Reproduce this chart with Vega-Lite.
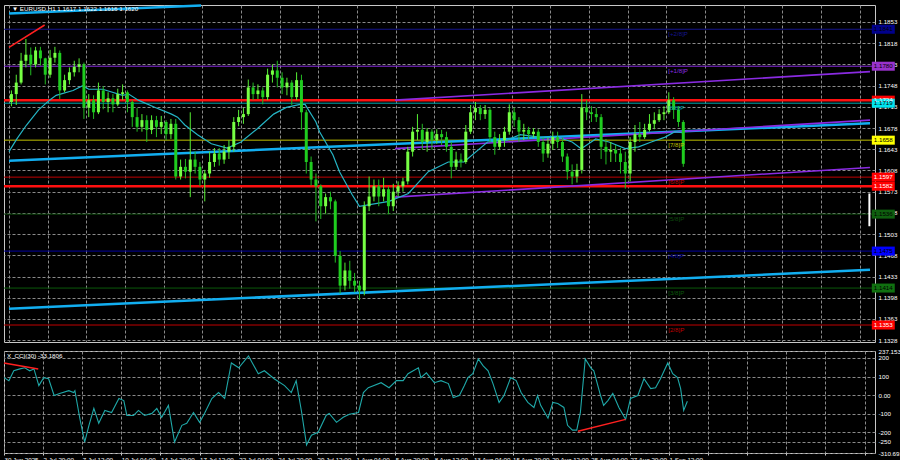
{
"$schema": "https://vega.github.io/schema/vega-lite/v6.json",
"background": "#000000",
"padding": 0,
"config": {
 "view": {"stroke": "#c8c8c8", "strokeWidth": 1},
 "concat": {"spacing": 3},
 "axis": {"labelFont": "Liberation Sans", "labelFontSize": 6.2, "labelColor": "#ffffff", "gridColor": "#8a8a8a", "gridDash": [3, 2], "gridWidth": 1, "domain": false, "ticks": false, "title": null, "labelOverlap": false, "labelFlush": false},
 "text": {"font": "Liberation Sans"}
},
"datasets": {
 "candles": [
{"t":4,"o":1.1721,"h":1.1740,"l":1.1714,"c":1.1734},{"t":12,"o":1.1734,"h":1.1766,"l":1.1716,"c":1.1753},{"t":20,"o":1.1753,"h":1.1802,"l":1.1750,"c":1.1789},{"t":28,"o":1.1789,"h":1.1825,"l":1.1778,"c":1.1799},{"t":36,"o":1.1799,"h":1.1811,"l":1.1765,"c":1.1783},{"t":44,"o":1.1783,"h":1.1812,"l":1.1778,"c":1.1806},{"t":52,"o":1.1806,"h":1.1812,"l":1.1781,"c":1.1793},{"t":60,"o":1.1793,"h":1.1794,"l":1.1750,"c":1.1766},{"t":68,"o":1.1766,"h":1.1807,"l":1.1761,"c":1.1794},{"t":76,"o":1.1794,"h":1.1812,"l":1.1786,"c":1.1802},
{"t":84,"o":1.1802,"h":1.1806,"l":1.1726,"c":1.1740},{"t":92,"o":1.1740,"h":1.1766,"l":1.1737,"c":1.1757},{"t":100,"o":1.1757,"h":1.1778,"l":1.1750,"c":1.1770},{"t":108,"o":1.1770,"h":1.1789,"l":1.1763,"c":1.1779},{"t":116,"o":1.1779,"h":1.1793,"l":1.1770,"c":1.1783},{"t":124,"o":1.1783,"h":1.1786,"l":1.1693,"c":1.1712},{"t":132,"o":1.1712,"h":1.1734,"l":1.1696,"c":1.1724},{"t":140,"o":1.1724,"h":1.1732,"l":1.1693,"c":1.1704},{"t":148,"o":1.1704,"h":1.1753,"l":1.1701,"c":1.1740},{"t":156,"o":1.1740,"h":1.1747,"l":1.1709,"c":1.1721},
{"t":164,"o":1.1721,"h":1.1737,"l":1.1704,"c":1.1727},{"t":172,"o":1.1727,"h":1.1734,"l":1.1704,"c":1.1717},{"t":180,"o":1.1717,"h":1.1743,"l":1.1714,"c":1.1734},{"t":188,"o":1.1734,"h":1.1750,"l":1.1724,"c":1.1737},{"t":196,"o":1.1737,"h":1.1740,"l":1.1704,"c":1.1721},{"t":204,"o":1.1721,"h":1.1724,"l":1.1680,"c":1.1696},{"t":212,"o":1.1696,"h":1.1711,"l":1.1672,"c":1.1680},{"t":220,"o":1.1680,"h":1.1701,"l":1.1672,"c":1.1691},{"t":228,"o":1.1691,"h":1.1699,"l":1.1655,"c":1.1675},{"t":236,"o":1.1675,"h":1.1699,"l":1.1668,"c":1.1691},
{"t":244,"o":1.1691,"h":1.1698,"l":1.1663,"c":1.1680},{"t":252,"o":1.1680,"h":1.1698,"l":1.1668,"c":1.1688},{"t":260,"o":1.1688,"h":1.1691,"l":1.1658,"c":1.1668},{"t":268,"o":1.1668,"h":1.1693,"l":1.1660,"c":1.1685},{"t":276,"o":1.1685,"h":1.1693,"l":1.1593,"c":1.1598},{"t":284,"o":1.1598,"h":1.1626,"l":1.1593,"c":1.1614},{"t":292,"o":1.1614,"h":1.1627,"l":1.1595,"c":1.1606},{"t":300,"o":1.1606,"h":1.1704,"l":1.1564,"c":1.1626},{"t":308,"o":1.1626,"h":1.1639,"l":1.1603,"c":1.1614},{"t":316,"o":1.1614,"h":1.1622,"l":1.1582,"c":1.1593},
{"t":324,"o":1.1593,"h":1.1609,"l":1.1557,"c":1.1603},{"t":332,"o":1.1603,"h":1.1639,"l":1.1596,"c":1.1622},{"t":340,"o":1.1622,"h":1.1645,"l":1.1614,"c":1.1636},{"t":348,"o":1.1636,"h":1.1645,"l":1.1616,"c":1.1626},{"t":356,"o":1.1626,"h":1.1650,"l":1.1619,"c":1.1639},{"t":364,"o":1.1639,"h":1.1658,"l":1.1627,"c":1.1647},{"t":372,"o":1.1647,"h":1.1696,"l":1.1639,"c":1.1688},{"t":380,"o":1.1688,"h":1.1708,"l":1.1681,"c":1.1696},{"t":388,"o":1.1696,"h":1.1711,"l":1.1685,"c":1.1701},{"t":396,"o":1.1701,"h":1.1758,"l":1.1698,"c":1.1745},
{"t":404,"o":1.1745,"h":1.1753,"l":1.1724,"c":1.1734},{"t":412,"o":1.1734,"h":1.1750,"l":1.1726,"c":1.1740},{"t":420,"o":1.1740,"h":1.1745,"l":1.1717,"c":1.1729},{"t":428,"o":1.1729,"h":1.1776,"l":1.1724,"c":1.1766},{"t":436,"o":1.1766,"h":1.1783,"l":1.1753,"c":1.1773},{"t":444,"o":1.1773,"h":1.1789,"l":1.1745,"c":1.1761},{"t":452,"o":1.1761,"h":1.1770,"l":1.1734,"c":1.1745},{"t":460,"o":1.1745,"h":1.1761,"l":1.1732,"c":1.1753},{"t":468,"o":1.1753,"h":1.1757,"l":1.1716,"c":1.1729},{"t":476,"o":1.1729,"h":1.1770,"l":1.1724,"c":1.1757},
{"t":484,"o":1.1757,"h":1.1766,"l":1.1675,"c":1.1704},{"t":492,"o":1.1704,"h":1.1708,"l":1.1603,"c":1.1622},{"t":500,"o":1.1622,"h":1.1631,"l":1.1583,"c":1.1593},{"t":508,"o":1.1593,"h":1.1603,"l":1.1524,"c":1.1582},{"t":516,"o":1.1582,"h":1.1585,"l":1.1528,"c":1.1549},{"t":524,"o":1.1549,"h":1.1570,"l":1.1537,"c":1.1564},{"t":532,"o":1.1564,"h":1.1573,"l":1.1544,"c":1.1557},{"t":540,"o":1.1557,"h":1.1560,"l":1.1456,"c":1.1467},{"t":548,"o":1.1467,"h":1.1475,"l":1.1405,"c":1.1418},{"t":556,"o":1.1418,"h":1.1456,"l":1.1410,"c":1.1443},
{"t":564,"o":1.1443,"h":1.1459,"l":1.1413,"c":1.1426},{"t":572,"o":1.1426,"h":1.1439,"l":1.1407,"c":1.1418},{"t":580,"o":1.1418,"h":1.1426,"l":1.1394,"c":1.1410},{"t":588,"o":1.1410,"h":1.1557,"l":1.1402,"c":1.1549},{"t":596,"o":1.1549,"h":1.1598,"l":1.1541,"c":1.1565},{"t":604,"o":1.1565,"h":1.1593,"l":1.1557,"c":1.1582},{"t":612,"o":1.1582,"h":1.1593,"l":1.1549,"c":1.1565},{"t":620,"o":1.1565,"h":1.1596,"l":1.1557,"c":1.1577},{"t":628,"o":1.1577,"h":1.1582,"l":1.1536,"c":1.1549},{"t":636,"o":1.1549,"h":1.1586,"l":1.1541,"c":1.1573},
{"t":644,"o":1.1573,"h":1.1590,"l":1.1565,"c":1.1582},{"t":652,"o":1.1582,"h":1.1596,"l":1.1573,"c":1.1590},{"t":660,"o":1.1590,"h":1.1647,"l":1.1585,"c":1.1639},{"t":668,"o":1.1639,"h":1.1680,"l":1.1631,"c":1.1672},{"t":676,"o":1.1672,"h":1.1701,"l":1.1658,"c":1.1675},{"t":684,"o":1.1675,"h":1.1685,"l":1.1642,"c":1.1655},{"t":692,"o":1.1655,"h":1.1678,"l":1.1639,"c":1.1672},{"t":700,"o":1.1672,"h":1.1676,"l":1.1642,"c":1.1658},{"t":708,"o":1.1658,"h":1.1676,"l":1.1652,"c":1.1668},{"t":716,"o":1.1668,"h":1.1675,"l":1.1650,"c":1.1663},
{"t":724,"o":1.1663,"h":1.1672,"l":1.1639,"c":1.1647},{"t":732,"o":1.1647,"h":1.1655,"l":1.1595,"c":1.1614},{"t":740,"o":1.1614,"h":1.1639,"l":1.1609,"c":1.1626},{"t":748,"o":1.1626,"h":1.1636,"l":1.1613,"c":1.1622},{"t":756,"o":1.1622,"h":1.1683,"l":1.1619,"c":1.1672},{"t":764,"o":1.1672,"h":1.1716,"l":1.1668,"c":1.1704},{"t":772,"o":1.1704,"h":1.1721,"l":1.1691,"c":1.1711},{"t":780,"o":1.1711,"h":1.1716,"l":1.1691,"c":1.1701},{"t":788,"o":1.1701,"h":1.1716,"l":1.1693,"c":1.1708},{"t":796,"o":1.1708,"h":1.1711,"l":1.1655,"c":1.1663},
{"t":804,"o":1.1663,"h":1.1672,"l":1.1634,"c":1.1647},{"t":812,"o":1.1647,"h":1.1668,"l":1.1642,"c":1.1658},{"t":820,"o":1.1658,"h":1.1680,"l":1.1647,"c":1.1672},{"t":828,"o":1.1672,"h":1.1717,"l":1.1667,"c":1.1704},{"t":836,"o":1.1704,"h":1.1712,"l":1.1680,"c":1.1691},{"t":844,"o":1.1691,"h":1.1696,"l":1.1655,"c":1.1672},{"t":852,"o":1.1672,"h":1.1685,"l":1.1658,"c":1.1675},{"t":860,"o":1.1675,"h":1.1680,"l":1.1660,"c":1.1668},{"t":868,"o":1.1668,"h":1.1678,"l":1.1662,"c":1.1672},{"t":876,"o":1.1672,"h":1.1676,"l":1.1647,"c":1.1655},
{"t":884,"o":1.1655,"h":1.1662,"l":1.1622,"c":1.1636},{"t":892,"o":1.1636,"h":1.1662,"l":1.1629,"c":1.1652},{"t":900,"o":1.1652,"h":1.1672,"l":1.1642,"c":1.1663},{"t":908,"o":1.1663,"h":1.1672,"l":1.1645,"c":1.1655},{"t":916,"o":1.1655,"h":1.1662,"l":1.1622,"c":1.1631},{"t":924,"o":1.1631,"h":1.1636,"l":1.1593,"c":1.1606},{"t":932,"o":1.1606,"h":1.1618,"l":1.1585,"c":1.1598},{"t":940,"o":1.1598,"h":1.1619,"l":1.1588,"c":1.1609},{"t":948,"o":1.1609,"h":1.1734,"l":1.1603,"c":1.1712},{"t":956,"o":1.1712,"h":1.1724,"l":1.1691,"c":1.1704},
{"t":964,"o":1.1704,"h":1.1714,"l":1.1688,"c":1.1701},{"t":972,"o":1.1701,"h":1.1711,"l":1.1688,"c":1.1696},{"t":980,"o":1.1696,"h":1.1701,"l":1.1627,"c":1.1647},{"t":988,"o":1.1647,"h":1.1660,"l":1.1618,"c":1.1639},{"t":996,"o":1.1639,"h":1.1655,"l":1.1622,"c":1.1642},{"t":1004,"o":1.1642,"h":1.1650,"l":1.1622,"c":1.1636},{"t":1012,"o":1.1636,"h":1.1645,"l":1.1603,"c":1.1622},{"t":1020,"o":1.1622,"h":1.1639,"l":1.1578,"c":1.1603},{"t":1028,"o":1.1603,"h":1.1663,"l":1.1590,"c":1.1655},{"t":1036,"o":1.1655,"h":1.1683,"l":1.1639,"c":1.1668},
{"t":1044,"o":1.1668,"h":1.1688,"l":1.1655,"c":1.1663},{"t":1052,"o":1.1663,"h":1.1685,"l":1.1660,"c":1.1675},{"t":1060,"o":1.1675,"h":1.1701,"l":1.1672,"c":1.1685},{"t":1068,"o":1.1685,"h":1.1704,"l":1.1676,"c":1.1691},{"t":1076,"o":1.1691,"h":1.1709,"l":1.1688,"c":1.1701},{"t":1084,"o":1.1701,"h":1.1714,"l":1.1691,"c":1.1704},{"t":1092,"o":1.1704,"h":1.1737,"l":1.1701,"c":1.1724},{"t":1100,"o":1.1724,"h":1.1729,"l":1.1693,"c":1.1708},{"t":1108,"o":1.1708,"h":1.1714,"l":1.1680,"c":1.1688},{"t":1116,"o":1.1688,"h":1.1691,"l":1.1614,"c":1.1619}
 ],
 "ma": [
{"t":0,"p":1.1639},{"t":13,"p":1.1660},{"t":29,"p":1.1683},{"t":49,"p":1.1708},{"t":67,"p":1.1724},{"t":78,"p":1.1732},{"t":106,"p":1.1740},{"t":122,"p":1.1748},{"t":132,"p":1.1742},{"t":155,"p":1.1742},{"t":188,"p":1.1732},{"t":198,"p":1.1734},{"t":214,"p":1.1724},{"t":242,"p":1.1712},{"t":269,"p":1.1701},{"t":279,"p":1.1696},{"t":291,"p":1.1683},{"t":312,"p":1.1667},{"t":335,"p":1.1652},{"t":361,"p":1.1645},{"t":384,"p":1.1655},{"t":410,"p":1.1676},{"t":438,"p":1.1701},{"t":459,"p":1.1712},{"t":482,"p":1.1717},{"t":490,"p":1.1717},{"t":508,"p":1.1688},{"t":514,"p":1.1672},{"t":536,"p":1.1634},{"t":547,"p":1.1606},{"t":568,"p":1.1568},{"t":580,"p":1.1549},{"t":629,"p":1.1557},{"t":661,"p":1.1570},{"t":694,"p":1.1606},{"t":727,"p":1.1622},{"t":753,"p":1.1622},{"t":792,"p":1.1655},{"t":824,"p":1.1658},{"t":846,"p":1.1667},{"t":878,"p":1.1663},{"t":911,"p":1.1662},{"t":932,"p":1.1655},{"t":947,"p":1.1644},{"t":971,"p":1.1660},{"t":993,"p":1.1655},{"t":1020,"p":1.1644},{"t":1042,"p":1.1647},{"t":1063,"p":1.1655},{"t":1086,"p":1.1663},{"t":1102,"p":1.1672},{"t":1117,"p":1.1670}
 ],
 "levels": [
{"p":1.1841,"line":"#14148e","box":"#00008b","txt":"#000000","name":"[+2/8]P","w":1},
{"p":1.1780,"line":"#8a2be2","box":"#9932cc","txt":"#000000","name":"[+1/8]P","w":1},
{"p":1.1724,"line":"#ff1010","box":"#ff0000","txt":"#ffffff","name":"","w":2.5},
{"p":1.1719,"line":"#00a8b0","box":"#00e5ee","txt":"#000000","name":"[8/8]P","w":1},
{"p":1.1658,"line":"#c0c000","box":"#ffff00","txt":"#000000","name":"[7/8]P","w":1},
{"p":1.1597,"line":"#c00000","box":"#ff0000","txt":"#ffffff","name":"[6/8]P","w":1},
{"p":1.1582,"line":"#ff1010","box":"#ff0000","txt":"#ffffff","name":"","w":2.5},
{"p":1.1536,"line":"#0d4a0d","box":"#0f5f0f","txt":"#000000","name":"[5/8]P","w":1},
{"p":1.1475,"line":"#0000a0","box":"#0000ff","txt":"#000000","name":"[4/8]P","w":1},
{"p":1.1414,"line":"#0b5a0b","box":"#107010","txt":"#000000","name":"[3/8]P","w":1},
{"p":1.1353,"line":"#c00000","box":"#ff0000","txt":"#ffffff","name":"[2/8]P","w":1}
 ],
 "trends": [
{"id":"a","t":0,"p":1.1867,"color":"#12aef0","w":2.5},{"id":"a","t":318,"p":1.1880,"color":"#12aef0","w":2.5},
{"id":"b","t":0,"p":1.1624,"color":"#12aef0","w":2.5},{"id":"b","t":1425,"p":1.1686,"color":"#12aef0","w":2.5},
{"id":"c","t":0,"p":1.1380,"color":"#12aef0","w":2.5},{"id":"c","t":1425,"p":1.1444,"color":"#12aef0","w":2.5},
{"id":"d","t":639,"p":1.1724,"color":"#8a2be2","w":1.6},{"id":"d","t":1425,"p":1.1771,"color":"#8a2be2","w":1.6},
{"id":"e","t":639,"p":1.1644,"color":"#8a2be2","w":1.6},{"id":"e","t":1425,"p":1.1691,"color":"#8a2be2","w":1.6},
{"id":"f","t":639,"p":1.1564,"color":"#8a2be2","w":1.6},{"id":"f","t":1425,"p":1.1613,"color":"#8a2be2","w":1.6},
{"id":"g","t":0,"p":1.1811,"color":"#ff2020","w":1.5},{"id":"g","t":59,"p":1.1848,"color":"#ff2020","w":1.5}
 ],
 "cci": [
{"t":0,"v":94},{"t":8,"v":78},{"t":16,"v":131},{"t":26,"v":141},{"t":34,"v":147},{"t":42,"v":131},{"t":49,"v":141},{"t":57,"v":51},{"t":65,"v":94},{"t":73,"v":88},{"t":82,"v":-2},{"t":91,"v":9},{"t":106,"v":24},{"t":114,"v":14},{"t":116,"v":24},{"t":124,"v":-124},{"t":132,"v":-252},{"t":139,"v":-162},{"t":147,"v":-71},{"t":155,"v":-151},{"t":165,"v":-82},{"t":176,"v":-93},{"t":188,"v":-18},{"t":196,"v":-29},{"t":201,"v":-109},{"t":212,"v":-109},{"t":220,"v":-82},{"t":230,"v":-109},{"t":242,"v":-98},{"t":250,"v":-71},{"t":258,"v":-119},{"t":269,"v":-55},{"t":279,"v":-252},{"t":291,"v":-162},{"t":299,"v":-151},{"t":310,"v":-93},{"t":320,"v":-146},{"t":328,"v":-98},{"t":340,"v":-18},{"t":351,"v":14},{"t":361,"v":-18},{"t":372,"v":173},{"t":384,"v":147},{"t":400,"v":211},{"t":416,"v":115},{"t":426,"v":131},{"t":442,"v":88},{"t":459,"v":51},{"t":470,"v":14},{"t":478,"v":78},{"t":487,"v":-93},{"t":495,"v":-268},{"t":503,"v":-215},{"t":514,"v":-199},{"t":527,"v":-109},{"t":532,"v":-98},{"t":544,"v":-146},{"t":555,"v":-119},{"t":565,"v":-103},{"t":580,"v":-93},{"t":588,"v":14},{"t":596,"v":40},{"t":617,"v":67},{"t":630,"v":40},{"t":642,"v":78},{"t":653,"v":78},{"t":661,"v":115},{"t":678,"v":147},{"t":682,"v":94},{"t":691,"v":120},{"t":704,"v":67},{"t":715,"v":78},{"t":727,"v":62},{"t":735,"v":-13},{"t":745,"v":-2},{"t":753,"v":51},{"t":759,"v":94},{"t":767,"v":115},{"t":776,"v":195},{"t":784,"v":157},{"t":792,"v":131},{"t":800,"v":62},{"t":810,"v":-39},{"t":818,"v":-2},{"t":829,"v":94},{"t":838,"v":78},{"t":846,"v":14},{"t":857,"v":-39},{"t":867,"v":-66},{"t":873,"v":-2},{"t":878,"v":-55},{"t":890,"v":-124},{"t":898,"v":-39},{"t":906,"v":-45},{"t":916,"v":-66},{"t":922,"v":-162},{"t":930,"v":-188},{"t":937,"v":-188},{"t":943,"v":-93},{"t":951,"v":194},{"t":960,"v":147},{"t":965,"v":131},{"t":976,"v":-2},{"t":981,"v":-55},{"t":988,"v":-29},{"t":996,"v":9},{"t":1006,"v":-66},{"t":1017,"v":-130},{"t":1025,"v":-18},{"t":1037,"v":-2},{"t":1047,"v":88},{"t":1058,"v":35},{"t":1066,"v":40},{"t":1074,"v":88},{"t":1086,"v":173},{"t":1094,"v":115},{"t":1102,"v":94},{"t":1107,"v":35},{"t":1112,"v":-82},{"t":1118,"v":-33}
 ],
 "cciLines": [
{"id":"a","t":0,"v":173},{"id":"a","t":56,"v":141},
{"id":"b","t":939,"v":-194},{"id":"b","t":1017,"v":-130}
 ]
},
"vconcat": [
 {
  "width": 871,
  "height": 337,
  "layer": [
   {"data": {"name": "levels"}, "mark": {"type": "rule"},
    "encoding": {
     "y": {"field": "p", "type": "quantitative", "scale": {"domain": [1.1325, 1.1881], "nice": false, "zero": false},
       "axis": {"orient": "right", "values": [1.1328,1.1363,1.1398,1.1433,1.1468,1.1503,1.1538,1.1573,1.1608,1.1643,1.1678,1.1713,1.1748,1.1783,1.1818,1.1853], "format": ".4f", "grid": true, "labelPadding": 3, "labelOverlap": false}},
     "color": {"field": "line", "type": "nominal", "scale": null}, "strokeWidth": {"field": "w", "type": "quantitative", "scale": null}}},
   {
    "encoding": {
     "x": {"field": "t", "type": "quantitative", "scale": {"domain": [0, 1425], "nice": false, "zero": false},
       "axis": {"values": [0,64,128,192,256,320,384,448,512,576,640,704,768,832,896,960,1024,1088,1152,1216,1280,1344,1408], "labels": false, "grid": true, "labelOverlap": false}},
     "y": {"field": "p", "type": "quantitative", "scale": {"domain": [1.1325, 1.1881], "nice": false, "zero": false},
       "axis": {"orient": "right", "values": [1.1328,1.1363,1.1398,1.1433,1.1468,1.1503,1.1538,1.1573,1.1608,1.1643,1.1678,1.1713,1.1748,1.1783,1.1818,1.1853], "format": ".4f", "grid": true, "labelPadding": 3, "labelOverlap": false}}
    },
    "layer": [
     {"data": {"name": "trends"}, "mark": {"type": "line"},
      "encoding": {"detail": {"field": "id"}, "color": {"field": "color", "type": "nominal", "scale": null}, "strokeWidth": {"field": "w", "type": "quantitative", "scale": null}}},
     {"data": {"name": "ma"}, "mark": {"type": "line", "color": "#25b5c5", "strokeWidth": 1.2}, "encoding": {}},
     {"data": {"name": "candles"}, "mark": {"type": "rule", "strokeWidth": 1},
      "encoding": {"y": {"field": "l"}, "y2": {"field": "h"}, "color": {"condition": {"test": "datum.c >= datum.o", "value": "#55ee33"}, "value": "#22bb22"}}},
     {"data": {"name": "candles"}, "mark": {"type": "bar", "width": 3},
      "encoding": {"y": {"field": "o"}, "y2": {"field": "c"}, "color": {"condition": {"test": "datum.c >= datum.o", "value": "#77ff44"}, "value": "#1fcc1f"}}},
     {"data": {"values": [{"t": 1424, "top": 1.1570, "bot": 1.1516}]}, "mark": {"type": "rule", "color": "#ffffff", "strokeWidth": 2},
      "encoding": {"y": {"field": "top"}, "y2": {"field": "bot"}}},
     {"data": {"values": [{"t": 5, "p": 1.1875, "label": "▼ EURUSD,H1  1.1617 1.1622 1.1616 1.1620"}]},
      "mark": {"type": "text", "align": "left", "baseline": "middle", "fontSize": 6.2, "color": "#ffffff"},
      "encoding": {"text": {"field": "label"}}}
    ]
   },
   {"data": {"name": "levels"}, "transform": [{"filter": "datum.name != ''"}],
    "mark": {"type": "text", "align": "left", "baseline": "top", "dy": 1.5, "fontSize": 6.2},
    "encoding": {
     "x": {"datum": 1091, "type": "quantitative", "scale": {"domain": [0, 1425], "nice": false, "zero": false},
       "axis": {"values": [0,64,128,192,256,320,384,448,512,576,640,704,768,832,896,960,1024,1088,1152,1216,1280,1344,1408], "labels": false, "grid": true, "labelOverlap": false}},
     "y": {"field": "p", "type": "quantitative", "scale": {"domain": [1.1325, 1.1881], "nice": false, "zero": false},
       "axis": {"orient": "right", "values": [1.1328,1.1363,1.1398,1.1433,1.1468,1.1503,1.1538,1.1573,1.1608,1.1643,1.1678,1.1713,1.1748,1.1783,1.1818,1.1853], "format": ".4f", "grid": true, "labelPadding": 3, "labelOverlap": false}},
     "text": {"field": "name"}, "color": {"field": "line", "type": "nominal", "scale": null}}},
   {"data": {"name": "levels"}, "mark": {"type": "rule", "strokeWidth": 9, "strokeCap": "butt"},
    "encoding": {
     "x": {"datum": 1428, "type": "quantitative", "scale": {"domain": [0, 1425], "nice": false, "zero": false},
       "axis": {"values": [0,64,128,192,256,320,384,448,512,576,640,704,768,832,896,960,1024,1088,1152,1216,1280,1344,1408], "labels": false, "grid": true, "labelOverlap": false}},
     "x2": {"datum": 1466},
     "y": {"field": "p", "type": "quantitative", "scale": {"domain": [1.1325, 1.1881], "nice": false, "zero": false},
       "axis": {"orient": "right", "values": [1.1328,1.1363,1.1398,1.1433,1.1468,1.1503,1.1538,1.1573,1.1608,1.1643,1.1678,1.1713,1.1748,1.1783,1.1818,1.1853], "format": ".4f", "grid": true, "labelPadding": 3, "labelOverlap": false}},
     "color": {"field": "box", "type": "nominal", "scale": null}}},
   {"data": {"name": "levels"}, "mark": {"type": "text", "align": "center", "baseline": "middle", "fontSize": 6.2},
    "encoding": {
     "x": {"datum": 1447, "type": "quantitative", "scale": {"domain": [0, 1425], "nice": false, "zero": false},
       "axis": {"values": [0,64,128,192,256,320,384,448,512,576,640,704,768,832,896,960,1024,1088,1152,1216,1280,1344,1408], "labels": false, "grid": true, "labelOverlap": false}},
     "y": {"field": "p", "type": "quantitative", "scale": {"domain": [1.1325, 1.1881], "nice": false, "zero": false},
       "axis": {"orient": "right", "values": [1.1328,1.1363,1.1398,1.1433,1.1468,1.1503,1.1538,1.1573,1.1608,1.1643,1.1678,1.1713,1.1748,1.1783,1.1818,1.1853], "format": ".4f", "grid": true, "labelPadding": 3, "labelOverlap": false}},
     "text": {"field": "p", "type": "quantitative", "format": ".4f"}, "color": {"field": "txt", "type": "nominal", "scale": null}}}
  ]
 },
 {
  "width": 871,
  "height": 102,
  "encoding": {
   "x": {"field": "t", "type": "quantitative", "scale": {"domain": [0, 1425], "nice": false, "zero": false},
     "axis": {"values": [0,64,128,192,256,320,384,448,512,576,640,704,768,832,896,960,1024,1088,1152,1216,1280,1344,1408], "grid": true, "labelAlign": "left", "labelPadding": 1, "labelBaseline": "top", "labelOverlap": false,
      "labelExpr": "['30 Jun 2025','2 Jul 20:00','7 Jul 12:00','10 Jul 04:00','14 Jul 20:00','17 Jul 12:00','22 Jul 04:00','24 Jul 20:00','29 Jul 12:00','1 Aug 04:00','5 Aug 20:00','8 Aug 12:00','13 Aug 04:00','15 Aug 20:00','20 Aug 12:00','25 Aug 04:00','27 Aug 20:00','1 Sep 12:00'][round(datum.value/64)] || ''",
      "ticks": true, "tickSize": 2, "tickColor": "#c8c8c8"}},
   "y": {"field": "v", "type": "quantitative", "scale": {"domain": [-310.691, 237.1533], "nice": false, "zero": false},
     "axis": {"orient": "right", "values": [237.1533, 200, 100, 0, -100, -200, -250, -310.691], "labelExpr": "datum.value == 0 ? '0.00' : toString(datum.value)", "grid": true, "labelPadding": 3, "labelOverlap": false}}
  },
  "layer": [
   {"data": {"name": "cci"}, "mark": {"type": "line", "color": "#1fa8a8", "strokeWidth": 1.1}, "encoding": {}},
   {"data": {"name": "cciLines"}, "mark": {"type": "line", "color": "#ff2020", "strokeWidth": 1.5}, "encoding": {"detail": {"field": "id"}}},
   {"data": {"values": [{"t": 5, "v": 210, "label": "X_CCI(30) -33.1806"}]},
    "mark": {"type": "text", "align": "left", "baseline": "middle", "fontSize": 6.2, "color": "#ffffff"},
    "encoding": {"text": {"field": "label"}}}
  ]
 }
]
}
